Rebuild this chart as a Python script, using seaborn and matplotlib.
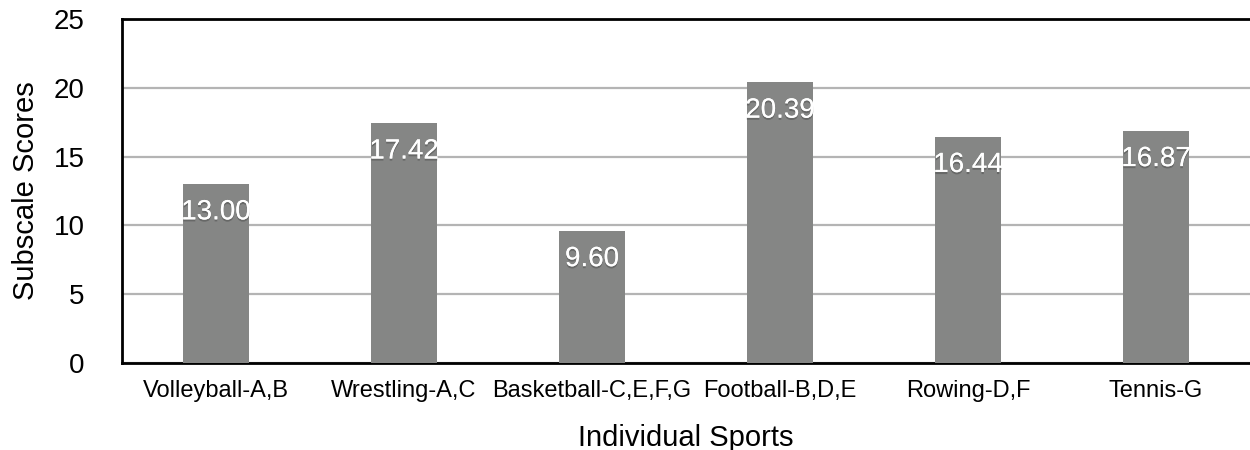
import matplotlib
matplotlib.use("Agg")
import matplotlib.pyplot as plt
import matplotlib.patheffects as pe
import seaborn as sns
import pandas as pd

sports = ["Volleyball-A,B", "Wrestling-A,C", "Basketball-C,E,F,G",
          "Football-B,D,E", "Rowing-D,F", "Tennis-G"]
scores = [13.00, 17.42, 9.60, 20.39, 16.44, 16.87]
y_ticks = [0, 5, 10, 15, 20, 25]

sns.set_theme(style="white")
plt.rcParams["font.family"] = ["Liberation Sans", "DejaVu Sans"]
plt.rcParams["text.color"] = "black"
plt.rcParams["axes.labelcolor"] = "black"

df = pd.DataFrame({"sport": sports, "score": scores})

fig = plt.figure(figsize=(12.5, 4.5), dpi=100)
ax = fig.add_axes([0.0976, 0.1933, 0.9024, 0.7645])

sns.barplot(data=df, x="sport", y="score", color="#858685", saturation=1,
            width=0.35, linewidth=0, ax=ax, zorder=3)

ax.set_xlim(-0.5, 5.5)
ax.set_ylim(0, 25)
ax.set_yticks(y_ticks)
ax.yaxis.grid(True, color="#b4b4b4", linewidth=1.6, zorder=0)
ax.set_axisbelow(True)

for side in ["left", "bottom", "top"]:
    ax.spines[side].set_visible(True)
    ax.spines[side].set_color("black")
    ax.spines[side].set_linewidth(2)
ax.spines["right"].set_visible(False)

ax.tick_params(axis="y", labelsize=20, length=0, pad=27, labelcolor="black")
ax.tick_params(axis="x", labelsize=17, length=0, pad=12, labelcolor="black")
ax.set_ylabel("Subscale Scores", fontsize=21, labelpad=10)
ax.set_xlabel("Individual Sports", fontsize=21, labelpad=16)

# value labels sit inside each bar, just under its top edge
shadow = [pe.withSimplePatchShadow(offset=(0, -1.5), shadow_rgbFace="black", alpha=0.22),
          pe.Normal()]
for i, v in enumerate(scores):
    ax.text(i, v - 2.05, f"{v:.2f}", ha="center", va="center", fontsize=20,
            color="white", zorder=5, path_effects=shadow)

fig.savefig("out.png", dpi=100, facecolor="white")
